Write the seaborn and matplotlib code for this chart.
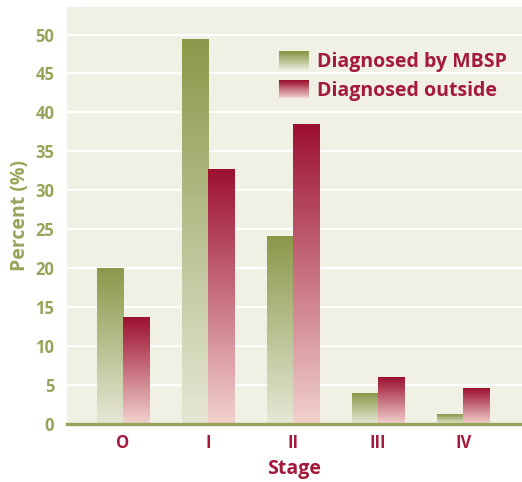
import matplotlib
matplotlib.use("Agg")
import matplotlib.pyplot as plt
import matplotlib.colors as mcolors
from matplotlib.patches import Rectangle
from matplotlib.legend_handler import HandlerPatch
import seaborn as sns
import pandas as pd
import numpy as np

stages = ["O", "I", "II", "III", "IV"]
mbsp = [20.0, 49.4, 24.1, 3.9, 1.2]
outside = [13.7, 32.7, 38.4, 6.0, 4.6]
series = ["Diagnosed by MBSP", "Diagnosed outside"]

# top / bottom colours of each bar gradient
grad = {
    "Diagnosed by MBSP": ("#8c984a", "#e6e8d6"),
    "Diagnosed outside": ("#9c1030", "#f2d2ce"),
}
bg = "#f0f0e4"
olive = "#98a45a"
wine = "#a41a3c"

df = pd.DataFrame({
    "stage": stages * 2,
    "pct": mbsp + outside,
    "who": [series[0]] * 5 + [series[1]] * 5,
})

sns.set_theme(style="white")
plt.rcParams["font.family"] = ["Open Sans", "DejaVu Sans"]

fig = plt.figure(figsize=(5.22, 4.82), dpi=100)
ax = fig.add_axes([0.128, 0.12, 0.872, 0.865])
ax.set_facecolor(bg)

sns.barplot(data=df, x="stage", y="pct", hue="who", hue_order=series,
            order=stages, width=0.62, gap=0, legend=False, ax=ax,
            saturation=1)


def ramp(top, bottom, n=256):
    t = mcolors.to_rgba(top)
    b = mcolors.to_rgba(bottom)
    s = np.linspace(0, 1, n)[:, None]
    return np.array(b) * (1 - s) + np.array(t) * s


for name, cont in zip(series, ax.containers):
    cols = ramp(*grad[name])[:, None, :]
    for p in cont:
        x, w, h = p.get_x(), p.get_width(), p.get_height()
        ax.imshow(cols, extent=(x, x + w, 0, h), origin="lower",
                  aspect="auto", zorder=2, interpolation="bilinear")
        p.set_visible(False)

ax.set_xlim(-0.66, 4.69)
ax.set_ylim(0, 53.5)
ax.set_yticks(range(0, 51, 5))
ax.yaxis.grid(True, color="white", linewidth=1.6, zorder=0)
ax.set_axisbelow(True)
for s in ["top", "right", "left"]:
    ax.spines[s].set_visible(False)
ax.spines["bottom"].set_color(olive)
ax.spines["bottom"].set_linewidth(2.4)
ax.spines["bottom"].set_zorder(5)

ax.tick_params(axis="both", length=0)
ax.tick_params(axis="y", labelcolor=olive, labelsize=12, pad=9)
ax.tick_params(axis="x", labelcolor=wine, labelsize=12, pad=7)
for lab in ax.get_xticklabels() + ax.get_yticklabels():
    lab.set_fontweight("bold")

ax.set_xlabel("Stage", color=wine, fontsize=14, fontweight="bold", labelpad=5)
ax.set_ylabel("Percent (%)", color=olive, fontsize=14, fontweight="bold",
              labelpad=4)


class GradHandler(HandlerPatch):
    def __init__(self, top, bottom):
        super().__init__()
        self.cols = ramp(top, bottom, 20)

    def create_artists(self, legend, orig, xd, yd, width, height, fontsize, trans):
        arts = []
        n = len(self.cols)
        for i, c in enumerate(self.cols):
            r = Rectangle((-xd, -yd + height * i / n), width, height / n + 0.3,
                          facecolor=c, edgecolor="none", transform=trans)
            arts.append(r)
        return arts


handles = [Rectangle((0, 0), 1, 1) for _ in series]
leg = ax.legend(handles, series, loc="upper right", bbox_to_anchor=(1.005, 0.935),
                frameon=False, handlelength=1.55, handleheight=1.05,
                handletextpad=0.4, labelspacing=0.4,
                handler_map={handles[0]: GradHandler(*grad[series[0]]),
                             handles[1]: GradHandler(*grad[series[1]])},
                prop={"weight": "bold", "size": 14})
for t in leg.get_texts():
    t.set_color(wine)

fig.savefig("out.png", dpi=100, facecolor="white")
